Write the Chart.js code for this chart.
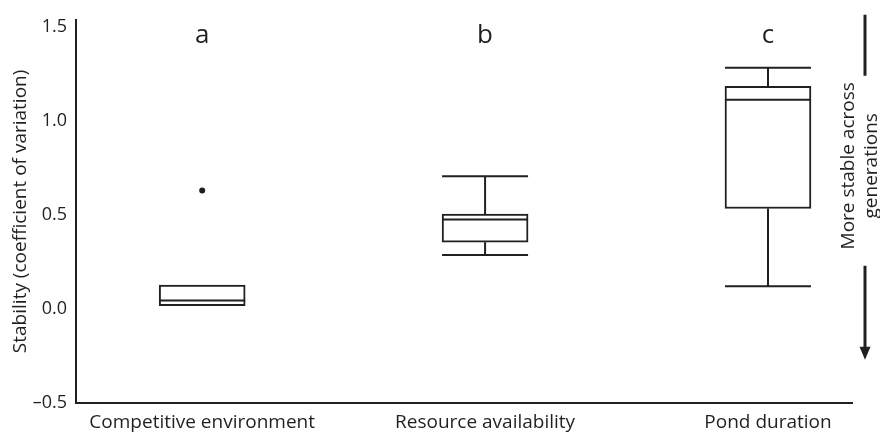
<!DOCTYPE html>
<html>
<head>
<meta charset="utf-8">
<script src="https://cdn.jsdelivr.net/npm/chart.js@4.4.1/dist/chart.umd.min.js"></script>
<style>
  html, body { margin: 0; padding: 0; background: #fff; }
  #wrap { width: 880px; height: 433px; }
</style>
</head>
<body>
<div id="wrap"><canvas id="stabilityChart"></canvas></div>
<script>
// groups along x (positions 1, 2, 3)
const groups = ['Competitive environment', 'Resource availability', 'Pond duration'];
const letters = ['a', 'b', 'c'];

// box plot summaries
const whiskerLow = [0.017, 0.287, 0.120];
const q1 = [0.017, 0.355, 0.534];
const median = [0.045, 0.475, 1.112];
const q3 = [0.127, 0.504, 1.183];
const whiskerHigh = [0.127, 0.706, 1.282];

// outliers
const outlierGroup = [1];
const outlierValue = [0.63];

const yTicks = [-0.5, 0, 0.5, 1.0, 1.5];

const INK = '#231f20';
const FONT = '"Open Sans", sans-serif';
const BOX_W = 86;

const boxData = groups.map((g, i) => ({ x: i + 1, y: [q1[i], q3[i]] }));
const outlierData = outlierGroup.map((g, i) => ({ x: g, y: outlierValue[i] }));

// medians, whiskers, group letters and the side arrow
const boxExtras = {
    id: 'boxExtras',
    afterDatasetsDraw(chart) {
        const { ctx, chartArea } = chart;
        const xs = chart.scales.x, ys = chart.scales.y;
        ctx.save();
        ctx.strokeStyle = INK;
        ctx.fillStyle = INK;
        ctx.lineWidth = 2;
        groups.forEach((g, i) => {
            const cx = xs.getPixelForValue(i + 1);
            const l = cx - BOX_W / 2, r = cx + BOX_W / 2;
            const hline = (v) => {
                const y = ys.getPixelForValue(v);
                ctx.beginPath(); ctx.moveTo(l, y); ctx.lineTo(r, y); ctx.stroke();
            };
            const vline = (a, b) => {
                ctx.beginPath();
                ctx.moveTo(cx, ys.getPixelForValue(a));
                ctx.lineTo(cx, ys.getPixelForValue(b));
                ctx.stroke();
            };
            hline(median[i]);
            if (whiskerHigh[i] > q3[i]) { vline(q3[i], whiskerHigh[i]); hline(whiskerHigh[i]); }
            if (whiskerLow[i] < q1[i]) { vline(whiskerLow[i], q1[i]); hline(whiskerLow[i]); }

            ctx.font = '26px ' + FONT;
            ctx.textAlign = 'center';
            ctx.textBaseline = 'alphabetic';
            ctx.fillText(letters[i], cx, chartArea.top + 23);
        });

        // "more stable" arrow on the right
        const ax = chartArea.right + 13;
        ctx.lineWidth = 3;
        ctx.beginPath();
        ctx.moveTo(ax, chartArea.top - 5);
        ctx.lineTo(ax, chartArea.top + 56);
        ctx.moveTo(ax, chartArea.top + 246);
        ctx.lineTo(ax, chartArea.top + 330);
        ctx.stroke();
        ctx.beginPath();
        ctx.moveTo(ax - 5.5, chartArea.top + 327);
        ctx.lineTo(ax + 5.5, chartArea.top + 327);
        ctx.lineTo(ax, chartArea.top + 340);
        ctx.closePath();
        ctx.fill();

        ctx.save();
        ctx.translate(ax - 16, chartArea.top + 146);
        ctx.rotate(-Math.PI / 2);
        ctx.font = '19px ' + FONT;
        ctx.textAlign = 'center';
        ctx.textBaseline = 'middle';
        ctx.fillText('More stable across', 0, 0);
        ctx.fillText('generations', 0, 23);
        ctx.restore();
        ctx.restore();
    }
};

new Chart(document.getElementById('stabilityChart'), {
    type: 'bar',
    data: {
        datasets: [{
            label: 'Box',
            data: boxData,
            backgroundColor: '#ffffff',
            borderColor: INK,
            borderWidth: 2,
            borderSkipped: false,
            barThickness: BOX_W,
            order: 2
        }, {
            type: 'scatter',
            label: 'Outlier',
            data: outlierData,
            pointRadius: 3,
            pointBackgroundColor: INK,
            pointBorderWidth: 0,
            order: 1
        }]
    },
    options: {
        responsive: true,
        maintainAspectRatio: false,
        animation: false,
        layout: { padding: { top: 13, right: 28, left: 0, bottom: 0 } },
        plugins: {
            legend: { display: false },
            tooltip: { enabled: false }
        },
        scales: {
            x: {
                type: 'linear',
                offset: false,
                min: 0.554,
                max: 3.297,
                grid: { display: false, drawTicks: false, offset: false },
                border: { display: true, color: INK, width: 2 },
                afterBuildTicks: (scale) => { scale.ticks = groups.map((g, i) => ({ value: i + 1 })); },
                afterFit: (scale) => { scale.height = 30; },
                ticks: {
                    autoSkip: false,
                    maxRotation: 0,
                    padding: 8,
                    color: INK,
                    font: { family: FONT, size: 19 },
                    callback: (v) => groups[Math.round(v) - 1]
                }
            },
            y: {
                min: -0.5,
                max: 1.537,
                grid: { display: false, drawTicks: false },
                border: { display: true, color: INK, width: 2 },
                afterBuildTicks: (scale) => { scale.ticks = yTicks.map(v => ({ value: v })); },
                afterFit: (scale) => { scale.width = 76; },
                ticks: {
                    padding: 9,
                    color: INK,
                    font: { family: FONT, size: 18 },
                    callback: (v) => (v < 0 ? '\u2013' : '') + Math.abs(v).toFixed(1)
                },
                title: {
                    display: true,
                    text: 'Stability (coefficient of variation)',
                    color: INK,
                    font: { family: FONT, size: 19 },
                    padding: { top: 9, bottom: 0 }
                }
            }
        }
    },
    plugins: [boxExtras]
});
</script>
</body>
</html>
